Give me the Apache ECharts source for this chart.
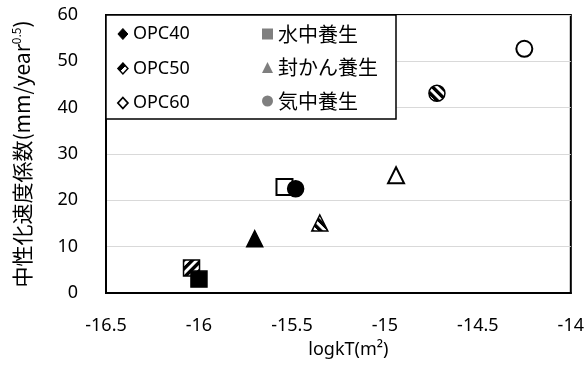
<!DOCTYPE html>
<html>
<head>
<meta charset="utf-8">
<script src="https://cdn.jsdelivr.net/npm/echarts@6/dist/echarts.min.js"></script>
<style>
  html, body { margin: 0; padding: 0; background: #fff; }
  #chart { width: 587px; height: 365px; }
</style>
</head>
<body>
<div id="chart"></div>
<script>
// Mix proportions (fill style) and curing conditions (marker shape)
const mixes = ['OPC40', 'OPC50', 'OPC60'];
const curings = ['水中養生', '封かん養生', '気中養生'];

// log kT (m²) and carbonation rate coefficient (mm/year^0.5), ordered OPC40, OPC50, OPC60
const waterLogkT  = [-16.00, -16.04, -15.54];
const waterRate   = [3.0, 5.4, 22.9];
const sealedLogkT = [-15.70, -15.35, -14.94];
const sealedRate  = [11.7, 15.1, 25.4];
const airLogkT    = [-15.48, -14.72, -14.25];
const airRate     = [22.5, 43.1, 52.7];

// Axis ranges
const xMin = -16.5, xMax = -14, xStep = 0.5;
const yMin = 0, yMax = 60, yStep = 10;

const LATIN = '"Noto Sans", "Open Sans", sans-serif';
const CJK = '"Noto Sans CJK JP", "Noto Sans", sans-serif';

// Diagonal black/white stripe fill (hard-stop gradient) for the OPC50 markers
function stripes(forward) {
  const periods = 4;
  const soft = 0.025;
  const stops = [];
  for (let k = 0; k < periods; k++) {
    const a = k / periods;
    const h = a + 0.5 / periods;
    const b = (k + 1) / periods;
    stops.push({ offset: a, color: '#000' });
    stops.push({ offset: h - soft, color: '#000' });
    stops.push({ offset: h + soft, color: '#fff' });
    stops.push({ offset: b - soft, color: '#fff' });
    if (k === periods - 1) stops.push({ offset: b, color: '#888' });
  }
  return forward
    ? { type: 'linear', x: 0, y: 0, x2: 1, y2: 1, colorStops: stops }   // "/" stripes
    : { type: 'linear', x: 0, y: 1, x2: 1, y2: 0, colorStops: stops };  // "\" stripes
}

function mixStyle(i, forward) {
  if (i === 0) return { color: '#000', borderColor: '#000', borderWidth: 1.5, opacity: 1 };
  if (i === 1) return { color: stripes(forward), borderColor: '#000', borderWidth: 1.5, opacity: 1 };
  return { color: '#fff', borderColor: '#000', borderWidth: 2, opacity: 1 };
}

function curingSeries(name, symbol, xs, ys, forward) {
  const data = mixes.map((m, i) => ({
    name: m,
    value: [xs[i], ys[i]],
    itemStyle: mixStyle(i, forward)
  }));
  data.reverse(); // OPC40 drawn last, on top
  return {
    name: name,
    type: 'scatter',
    symbol: symbol,
    symbolSize: 16,
    data: data,
    z: 3,
    itemStyle: { color: '#7f7f7f', opacity: 1 },
    emphasis: { disabled: true }
  };
}

const series = [
  curingSeries(curings[0], 'rect', waterLogkT, waterRate, true),
  curingSeries(curings[1], 'triangle', sealedLogkT, sealedRate, false),
  curingSeries(curings[2], 'circle', airLogkT, airRate, false)
];
// Legend-only entries for the mix proportions
mixes.forEach(m => series.push({ name: m, type: 'scatter', data: [] }));

const chart = echarts.init(document.getElementById('chart'), null, { renderer: 'canvas' });

chart.setOption({
  animation: false,
  backgroundColor: '#fff',
  grid: {
    left: 106, right: 16, top: 15, bottom: 72,
    show: true, borderColor: '#000', borderWidth: 2
  },
  xAxis: {
    type: 'value',
    min: xMin, max: xMax, interval: xStep,
    name: 'logkT(m²)',
    nameLocation: 'middle',
    nameGap: 48,
    nameTextStyle: { fontFamily: LATIN, fontSize: 18, color: '#000', padding: [0, 0, 0, 20] },
    axisLine: { show: true, lineStyle: { color: '#000', width: 2 } },
    axisTick: { show: false },
    splitLine: { show: false },
    axisLabel: { fontFamily: LATIN, fontSize: 18, color: '#000', margin: 24 }
  },
  yAxis: {
    type: 'value',
    min: yMin, max: yMax, interval: yStep,
    name: '中性化速度係数(mm/year{sup|0.5})',
    nameLocation: 'middle',
    nameRotate: 90,
    nameGap: 72,
    nameTextStyle: {
      fontFamily: CJK, fontSize: 21, color: '#000',
      rich: { sup: { fontFamily: CJK, fontSize: 12, color: '#000', verticalAlign: 'top', lineHeight: 24 } }
    },
    axisLine: { show: true, lineStyle: { color: '#000', width: 2 } },
    axisTick: { show: false },
    splitLine: { show: true, lineStyle: { color: '#d9d9d9', width: 1 } },
    axisLabel: { fontFamily: LATIN, fontSize: 18, color: '#000', margin: 28 }
  },
  graphic: [{
    type: 'rect',
    z: 10,
    shape: { x: 106, y: 15, width: 290, height: 104 },
    style: { fill: '#fff', stroke: '#000', lineWidth: 1.5 }
  }],
  legend: [
    {
      z: 11,
      selectedMode: false,
      orient: 'vertical',
      left: 117, top: 23, padding: 0,
      itemWidth: 10, itemHeight: 11, itemGap: 12.5,
      textStyle: { fontFamily: LATIN, fontSize: 18, color: '#000', lineHeight: 22 },
      data: [
        { name: mixes[0], icon: 'diamond', itemStyle: { color: '#000', borderColor: '#000', borderWidth: 1, opacity: 1 } },
        { name: mixes[1], icon: 'diamond', itemStyle: {
            color: { type: 'linear', x: 0, y: 0, x2: 1, y2: 1,
                     colorStops: [{ offset: 0, color: '#000' }, { offset: 0.5, color: '#000' },
                                  { offset: 0.5, color: '#fff' }, { offset: 1, color: '#fff' }] },
            borderColor: '#000', borderWidth: 1.5, opacity: 1 } },
        { name: mixes[2], icon: 'diamond', itemStyle: { color: '#fff', borderColor: '#000', borderWidth: 1.8, opacity: 1 } }
      ]
    },
    {
      z: 11,
      selectedMode: false,
      orient: 'vertical',
      left: 262, top: 23, padding: 0,
      itemWidth: 11, itemHeight: 11, itemGap: 11.5,
      textStyle: { fontFamily: CJK, fontSize: 20, color: '#000', lineHeight: 22 },
      data: [
        { name: curings[0], icon: 'rect', itemStyle: { color: '#7f7f7f', borderWidth: 0, opacity: 1 } },
        { name: curings[1], icon: 'triangle', itemStyle: { color: '#7f7f7f', borderWidth: 0, opacity: 1 } },
        { name: curings[2], icon: 'circle', itemStyle: { color: '#7f7f7f', borderWidth: 0, opacity: 1 } }
      ]
    }
  ],
  series: series
});
</script>
</body>
</html>
